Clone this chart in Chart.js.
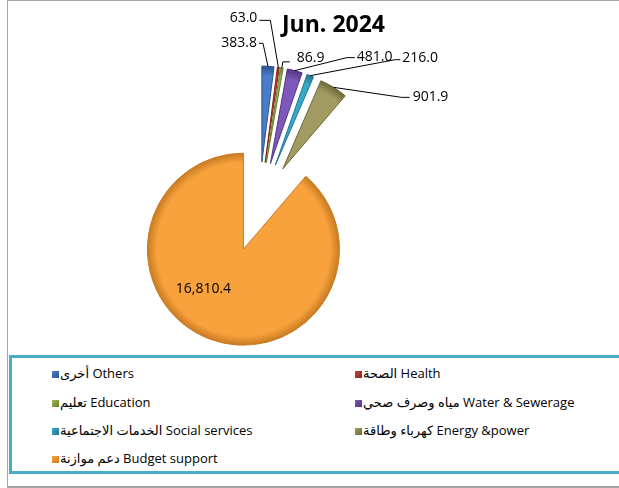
<!DOCTYPE html>
<html>
<head>
<meta charset="utf-8">
<script src="https://cdn.jsdelivr.net/npm/chart.js@4"></script>
<style>
  body { margin: 0; width: 619px; height: 488px; overflow: hidden; background: #fff; font-family: "Open Sans", "DejaVu Sans", sans-serif; }
  #frame { position: absolute; left: 7px; top: 0; width: 700px; height: 485px; border-left: 1px solid #a6a6a6; border-top: 1px solid #a6a6a6; border-bottom: 2px solid #a6a6a6; }
  #chartBox { position: absolute; left: 0; top: 0; width: 619px; height: 355px; }
  #title { position: absolute; left: 282px; top: 7px; font: bold 23px "Open Sans", sans-serif; color: #000; white-space: nowrap; }
  #legend { position: absolute; left: 9px; top: 355px; width: 700px; height: 113px; border: 3px solid #4bacc6; }
  .item { position: absolute; font-size: 13px; color: #000; white-space: nowrap; line-height: 16px; }
  .sw { display: inline-block; width: 7px; height: 7px; margin-right: 1px; vertical-align: 0px; }
</style>
</head>
<body>
<div id="frame"></div>
<div id="chartBox"><canvas id="myChart" width="619" height="355"></canvas></div>
<div id="title">Jun. 2024</div>
<div id="legend"></div>
<script>
// datos del grafico (Jun. 2024)
const categorias = ['Others', 'Health', 'Education', 'Water & Sewerage', 'Social services', 'Energy &power', 'Budget support'];
const nombresArabe = ['أخرى', 'الصحة', 'تعليم', 'مياه وصرف صحي', 'الخدمات الاجتماعية', 'كهرباء وطاقة', 'دعم موازنة'];
const valores = [383.8, 63.0, 86.9, 481.0, 216.0, 901.9, 16810.4];
const colores = ['#4a7cc7', '#c8423a', '#98b954', '#7d58b8', '#36a9c9', '#a19b62', '#f7a23c'];
const bordes = ['#2c548f', '#8a2520', '#66802f', '#533783', '#1f7590', '#6d6838', '#c97b22'];

// posiciones de las etiquetas respecto a la punta de cada sector
const etiquetas = [
  { dx: -5, dy: -23, run: -4, tx: -2, ty: 0 },
  { dx: -8, dy: -47, run: -11, tx: -2, ty: -2 },
  { dx: 1, dy: -6, run: 7, tx: 7, ty: -4 },
  { dx: 52, dy: -13, run: 8, tx: 2, ty: -1 },
  { dx: 85, dy: -16, run: 5, tx: 2, ty: -2 },
  { dx: 68, dy: 10, run: 8, tx: 3, ty: 0 },
  { dx: -40, dy: 40 }
];

const RADIO = 96;
const EXPLOSION = 45; // px que se separa cada sector del centro

// angulo medio de cada sector (desde arriba, sentido horario)
function anguloMedio(i) {
  const total = valores.reduce((a, b) => a + b, 0);
  const antes = valores.slice(0, i).reduce((a, b) => a + b, 0);
  return -Math.PI / 2 + 2 * Math.PI * (antes + valores[i] / 2) / total;
}

function relleno(c) {
  const area = c.chart.chartArea;
  if (!area) return colores[c.dataIndex];
  const m = anguloMedio(c.dataIndex);
  const cx = (area.left + area.right) / 2 + Math.cos(m) * EXPLOSION;
  const cy = (area.top + area.bottom) / 2 + Math.sin(m) * EXPLOSION;
  const g = c.chart.ctx.createRadialGradient(cx, cy, 0, cx, cy, RADIO);
  g.addColorStop(0, colores[c.dataIndex]);
  g.addColorStop(0.9, colores[c.dataIndex]);
  g.addColorStop(1, bordes[c.dataIndex]);
  return g;
}

// separar todos los sectores del centro
const explotar = {
  id: 'explotar',
  beforeDatasetsDraw(chart) {
    const a = chart.chartArea;
    const cx = (a.left + a.right) / 2;
    const cy = (a.top + a.bottom) / 2;
    chart.getDatasetMeta(0).data.forEach(arc => {
      const mid = (arc.startAngle + arc.endAngle) / 2;
      arc.x = cx + Math.cos(mid) * EXPLOSION;
      arc.y = cy + Math.sin(mid) * EXPLOSION;
    });
  }
};

const rotulos = {
  id: 'rotulos',
  afterDatasetsDraw(chart) {
    const ctx = chart.ctx;
    const meta = chart.getDatasetMeta(0);
    ctx.save();
    ctx.font = '14px "Open Sans", sans-serif';
    ctx.fillStyle = '#000';
    ctx.strokeStyle = '#000';
    ctx.lineWidth = 1;
    ctx.textBaseline = 'middle';
    meta.data.forEach((arc, i) => {
      const mid = (arc.startAngle + arc.endAngle) / 2;
      const et = etiquetas[i];
      const texto = valores[i].toLocaleString('en-US', { minimumFractionDigits: 1, maximumFractionDigits: 1 });
      if (et.run === undefined) {
        ctx.textAlign = 'center';
        ctx.fillText(texto, arc.x + et.dx, arc.y + et.dy);
        return;
      }
      const px = arc.x + Math.cos(mid) * arc.outerRadius;
      const py = arc.y + Math.sin(mid) * arc.outerRadius;
      const ex = px + et.dx, ey = py + et.dy;
      ctx.beginPath();
      ctx.moveTo(px, py);
      ctx.lineTo(ex, ey);
      ctx.lineTo(ex + et.run, ey);
      ctx.stroke();
      ctx.textAlign = et.run < 0 ? 'right' : 'left';
      ctx.fillText(texto, ex + et.run + et.tx, ey + et.ty);
    });
    ctx.restore();
  }
};

const ctx = document.getElementById('myChart').getContext('2d');
new Chart(ctx, {
  type: 'pie',
  data: {
    labels: categorias,
    datasets: [{
      data: valores,
      backgroundColor: relleno,
      borderColor: bordes,
      borderWidth: 1,
      hoverOffset: 0
    }]
  },
  options: {
    responsive: false,
    maintainAspectRatio: false,
    animation: false,
    events: [],
    radius: RADIO,
    layout: { padding: { left: 0, right: 101, top: 59, bottom: 0 } },
    plugins: {
      legend: { display: false },
      tooltip: { enabled: false },
      title: { display: false }
    }
  },
  plugins: [explotar, rotulos]
});

// leyenda en dos columnas
const leyenda = document.getElementById('legend');
const colX = [40, 343];
const filaY = [7, 36, 64, 92];
categorias.forEach((cat, i) => {
  const d = document.createElement('div');
  d.className = 'item';
  d.style.left = colX[i % 2] + 'px';
  d.style.top = filaY[Math.floor(i / 2)] + 'px';
  const sw = document.createElement('span');
  sw.className = 'sw';
  sw.style.background = 'linear-gradient(135deg, ' + colores[i] + ', ' + bordes[i] + ')';
  d.appendChild(sw);
  d.appendChild(document.createTextNode(nombresArabe[i] + ' ' + cat));
  leyenda.appendChild(d);
});
</script>
</body>
</html>
